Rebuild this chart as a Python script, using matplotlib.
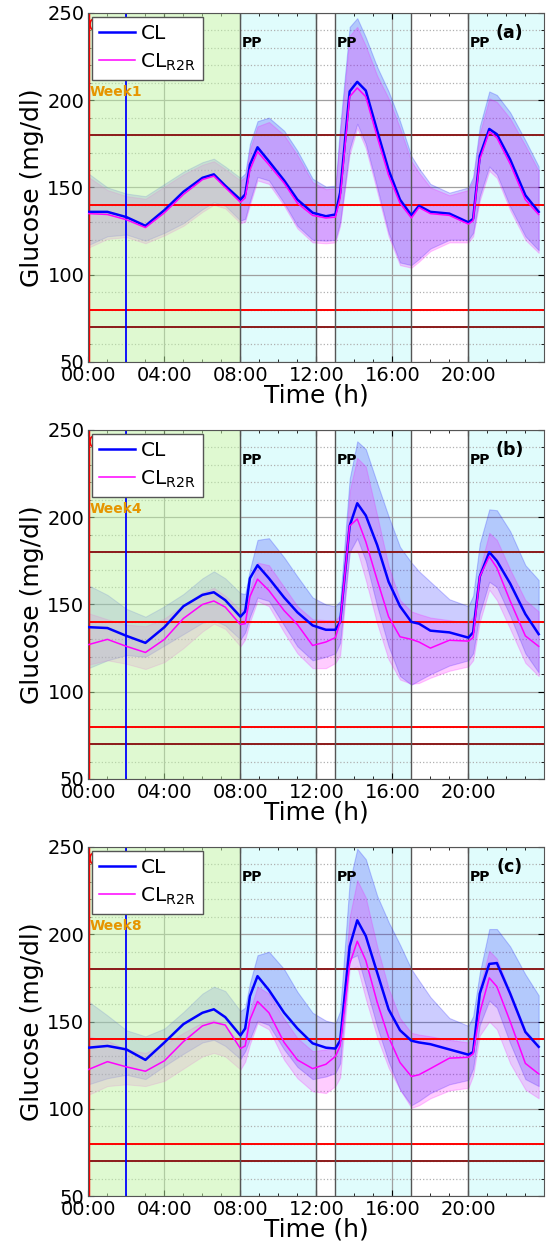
import matplotlib.pyplot as plt
from matplotlib.ticker import MultipleLocator

# time grid (h) shared by all curves
hours = [0, 1, 2, 3, 4, 5, 6, 6.6, 7.2, 8, 8.25, 8.5, 8.9, 9.5, 10.3, 11, 11.8, 12.5, 13,
         13.25, 13.75, 14.15, 14.6, 15.2, 15.8, 16.4, 17, 17.4, 18, 19, 20, 20.25, 20.6,
         21.1, 21.5, 22.2, 23, 23.7]

# (a) week 1
cl_a = [136, 136, 133, 128, 137, 147.5, 155.5, 157.5, 151, 143, 146, 163, 173, 165, 154, 143,
        135.5, 133.5, 134.5, 147, 205, 210.5, 205.5, 182.5, 160, 143, 134, 139.5, 136, 135,
        130, 132, 168, 183.5, 180.5, 166, 145.5, 136]
r2r_a = [135, 134.5, 131.5, 127, 135.5, 146, 154.5, 156.5, 150, 141.5, 144, 160, 170.5, 163,
         152.5, 141, 134, 132.5, 133, 144, 202, 207, 202, 179, 157, 141, 132.5, 138.5, 135,
         134, 129, 131, 166, 182, 178.5, 163.5, 143, 134.5]
cl_hi_a = [158, 150, 146.5, 145, 152, 159, 164.5, 166.5, 162, 155.5, 158, 175, 188, 190, 182.5,
           171, 155, 150.5, 151, 185, 242, 247, 236, 219, 205, 188, 168, 161, 152, 147, 150,
           156, 185, 205, 203, 193, 177, 162]
cl_lo_a = [117, 122, 123, 119.5, 124, 129.5, 137.5, 141.5, 139.5, 131, 132, 142, 156, 154, 141,
           128, 120, 119.5, 120, 130, 172, 186.5, 175, 150, 124, 107, 105.5, 109, 115, 120,
           120, 124, 145, 162, 157.5, 139, 122, 114]
r2r_hi_a = [156, 148.5, 145, 143.5, 150.5, 157.5, 163, 165, 160.5, 154, 156, 172, 185, 187.5,
            180, 168.5, 153, 149, 149.5, 181, 237, 242, 231, 214, 201, 184, 165, 158.5, 150,
            145.5, 148.5, 154, 181, 201, 199, 189.5, 174, 159.5]
r2r_lo_a = [115.5, 120.5, 121.5, 118, 122.5, 128, 136, 140, 138, 129.5, 130.5, 140, 154, 152,
            139.5, 126.5, 118.5, 118, 118.5, 128, 169, 184, 172.5, 147.5, 122, 105.5, 104,
            107.5, 113.5, 118.5, 118.5, 122, 142.5, 159.5, 155.5, 137, 120, 112.5]

# (b) week 4
cl_b = [137, 136.5, 132, 128, 137, 149, 155.5, 157, 152.5, 143, 146, 165, 172.5, 165, 154,
        145.5, 138, 135.5, 135.5, 140, 195, 208, 201, 184, 163, 149, 140, 139, 135, 134, 131,
        134, 166, 180, 175, 162, 144.5, 133]
r2r_b = [127, 130, 126, 122.5, 130, 142, 150, 152, 148.5, 138.5, 139, 154.5, 164.5, 158,
         146.5, 138.5, 126.5, 128.5, 131, 140, 195, 199, 186, 164, 143, 131.5, 130, 128.5,
         125, 129.5, 129, 131, 166, 177.5, 171, 152, 132, 126]
cl_hi_b = [161, 155.5, 147.5, 143, 149, 156, 165, 169, 165, 156.5, 156, 170, 187, 188, 177,
           166, 154, 150, 149, 152, 222, 243.5, 239, 219.5, 200.5, 183, 174, 169, 163, 153,
           149, 155, 185, 204.5, 204, 192, 172.5, 164]
cl_lo_b = [113.5, 118, 121, 120, 126.5, 133, 139.5, 141, 138, 130, 134, 143, 154, 152, 138,
           126, 118, 120, 122, 128, 180, 188, 175, 149, 126, 109, 104, 106.5, 110, 115, 118,
           122, 145, 163, 160, 143.5, 122, 111]
r2r_hi_b = [145, 141.5, 138.5, 137.5, 142, 149.5, 157, 159.5, 155, 147, 147, 158, 174, 172.5,
            160, 149, 141.5, 141, 141, 144, 215, 234, 229, 201, 172, 152.5, 146, 144.5,
            142.5, 141, 139.5, 143, 170, 191, 187, 170, 152.5, 146]
r2r_lo_b = [115.5, 118, 116, 113, 117, 125, 134.5, 139, 136, 126, 130, 140, 152, 149, 134, 122,
            113.5, 113.5, 116.5, 121, 180, 181, 164, 139, 118.5, 107, 104.5, 105, 108, 112,
            114.5, 118, 140, 158.5, 152.5, 136, 116.5, 109]

# (c) week 8
cl_c = [135, 136, 134, 128, 138, 148.5, 155, 157, 152.5, 142, 146, 164.5, 176, 168, 155, 146,
        137.5, 135, 134.5, 139, 193, 208, 199, 178, 157, 145, 139, 138, 137, 134, 131, 132.5,
        166, 183, 183.5, 166, 144, 135.5]
r2r_c = [122.5, 127, 124, 121.5, 127.5, 138.5, 147.5, 149.5, 148, 134.5, 136, 151, 161.5, 155,
         138, 128, 123, 125.5, 130, 136, 183, 196, 185, 161, 141, 126.5, 118.5, 119.5, 123,
         129, 129.5, 131.5, 155, 175, 170, 150, 126, 120]
cl_hi_c = [161.5, 153.5, 145, 141.5, 146, 155.5, 166, 170, 167.5, 156, 158, 172, 188, 190, 180,
           167, 155, 150.5, 149, 156, 230, 249, 243, 222, 207, 194, 180, 173.5, 164, 152,
           147.5, 153, 178, 203, 203, 193, 177, 165]
cl_lo_c = [114, 117.5, 119.5, 117, 124.5, 131.5, 138, 139.5, 136, 128.5, 133, 140, 150.5, 148,
           134, 124, 117, 118.5, 120.5, 126, 186, 188, 170.5, 147, 127, 111, 102, 104.5, 109,
           114, 116.5, 123, 148, 162, 158, 137.5, 117, 113]
r2r_hi_c = [141.5, 139, 134, 132, 137, 143.5, 149.5, 151, 147, 138, 141, 156, 170, 166, 151.5,
            140.5, 133, 134, 136, 142, 210, 231, 221, 193, 169, 152, 143.5, 142.5, 141.5,
            139.5, 138, 141, 170, 190.5, 186, 167, 145, 136]
r2r_lo_c = [108, 113, 114, 113, 116, 123, 130, 132, 130, 122.5, 127, 137, 149, 145.5, 128,
            117.5, 110, 109, 113, 118, 180, 181.5, 163, 141, 123.5, 111, 100.5, 102, 106,
            110.5, 112, 119, 142, 150, 145.5, 126, 111, 106]

panels = [
    ('(a)', 'Week1', cl_a, r2r_a, cl_hi_a, cl_lo_a, r2r_hi_a, r2r_lo_a),
    ('(b)', 'Week4', cl_b, r2r_b, cl_hi_b, cl_lo_b, r2r_hi_b, r2r_lo_b),
    ('(c)', 'Week8', cl_c, r2r_c, cl_hi_c, cl_lo_c, r2r_hi_c, r2r_lo_c),
]

xticks = [0, 4, 8, 12, 16, 20]
xticklabels = ['00:00', '04:00', '08:00', '12:00', '16:00', '20:00']
meal_lines = [8, 12, 13, 17, 20]
pp_times = [8, 13, 20]

plt.rcParams['font.family'] = ['DejaVu Sans']

fig = plt.figure(figsize=(5.46, 12.55), dpi=100)
bottoms = [0.7116, 0.3793, 0.0470]

for (tag, week, cl, r2r, cl_hi, cl_lo, r2r_hi, r2r_lo), b in zip(panels, bottoms):
    ax = fig.add_axes([0.162, b, 0.835, 0.2781])

    # background periods
    for x0, x1 in [(8, 12), (13, 17), (20, 24)]:
        ax.axvspan(x0, x1, color='#e0fcfc', lw=0, zorder=0.1)

    # bands
    ax.fill_between(hours, cl_lo, cl_hi, color='blue', alpha=0.2, lw=0.8, zorder=1)
    ax.fill_between(hours, r2r_lo, r2r_hi, color='magenta', alpha=0.2, lw=0.8, zorder=1.1)

    # night period overlay
    ax.axvspan(0, 8, color='#c1f5a5', alpha=0.5, lw=0, zorder=1.5)

    # reference levels
    for y, c in [(180, '#8b1a1a'), (140, 'red'), (80, 'red'), (70, '#8b1a1a')]:
        ax.axhline(y, color=c, lw=1.4, zorder=2)
    for x in meal_lines:
        ax.axvline(x, color='#555555', lw=1, zorder=2)
    ax.axvline(0, color='red', lw=2.5, zorder=2.5)
    ax.axvline(2, color='blue', lw=1.3, zorder=2.5)

    ax.plot(hours, cl, color='blue', lw=1.8, label='CL', zorder=3)
    ax.plot(hours, r2r, color='magenta', lw=1.1, label=r'CL$_{\mathregular{R2R}}$', zorder=3.1)

    for t in pp_times:
        ax.text(t + 0.05, 233, 'PP', fontsize=10, fontweight='bold', va='center', zorder=4)
    ax.text(22.15, 238.5, tag, fontsize=12.5, fontweight='bold', ha='center', va='center', zorder=4)
    ax.text(0.05, 204.5, week, fontsize=10, fontweight='bold', color='#e69500', va='center', zorder=4)
    ax.text(0.0, 242.5, 'C', fontsize=13, color='red', va='center', zorder=4)

    ax.set_xlim(0, 24)
    ax.set_ylim(50, 250)
    ax.set_xticks(xticks)
    ax.set_xticklabels(xticklabels)
    ax.set_yticks([50, 100, 150, 200, 250])
    ax.xaxis.set_minor_locator(MultipleLocator(1))
    ax.yaxis.set_minor_locator(MultipleLocator(10))
    ax.set_axisbelow(True)
    ax.grid(which='major', color='#a0a0a0', lw=0.9)
    ax.grid(which='minor', axis='y', color='#b0b0b0', ls=':', lw=0.9)
    ax.tick_params(which='both', direction='in', top=True, right=True, labelsize=14, pad=3)
    ax.tick_params(which='major', length=4)
    ax.tick_params(which='minor', length=2)
    for s in ax.spines.values():
        s.set_color('#555555')

    ax.set_xlabel('Time (h)', fontsize=18, labelpad=-1)
    ax.set_ylabel('Glucose (mg/dl)', fontsize=18, labelpad=2)

    leg = ax.legend(loc='upper left', bbox_to_anchor=(0.008, 0.988), borderaxespad=0,
                    fontsize=14.5, handlelength=1.8, handletextpad=0.25, labelspacing=0.4,
                    borderpad=0.35, fancybox=False, framealpha=1, edgecolor='#555555')
    leg.set_zorder(10)

fig.savefig('out.png', dpi=100)
